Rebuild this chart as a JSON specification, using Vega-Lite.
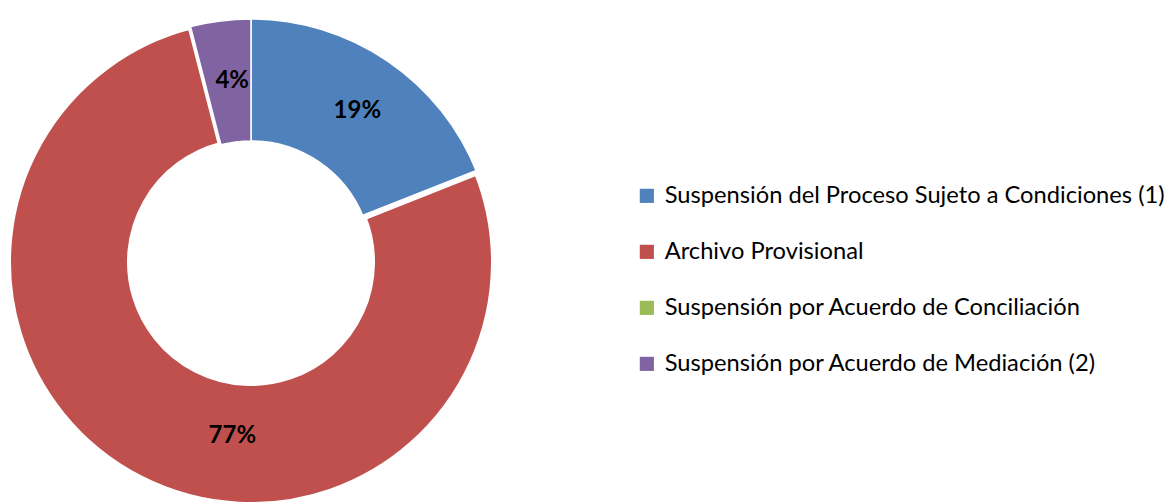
{
  "$schema": "https://vega.github.io/schema/vega-lite/v6.json",
  "autosize": "none",
  "width": 486,
  "height": 486,
  "padding": {"left": 8, "top": 19, "right": 672, "bottom": 0},
  "background": "white",
  "config": {"view": {"stroke": null}},
  "data": {
    "values": [
      {"idx": 1, "cat": "Suspensión del Proceso Sujeto a Condiciones (1)", "value": 0.19},
      {"idx": 2, "cat": "Archivo Provisional", "value": 0.77},
      {"idx": 3, "cat": "Suspensión por Acuerdo de Conciliación", "value": 0.0},
      {"idx": 4, "cat": "Suspensión por Acuerdo de Mediación (2)", "value": 0.04}
    ]
  },
  "encoding": {
    "theta": {"field": "value", "type": "quantitative", "stack": true},
    "order": {"field": "idx", "type": "quantitative", "sort": "ascending"}
  },
  "layer": [
    {
      "mark": {"type": "arc", "outerRadius": 243, "innerRadius": 121, "stroke": "white"},
      "encoding": {
        "color": {
          "field": "cat",
          "type": "nominal",
          "sort": null,
          "scale": {
            "domain": ["Suspensión del Proceso Sujeto a Condiciones (1)", "Archivo Provisional", "Suspensión por Acuerdo de Conciliación", "Suspensión por Acuerdo de Mediación (2)"],
            "range": ["#4F81BD", "#C0504D", "#9BBB59", "#8064A2"]
          },
          "legend": {
            "title": null,
            "orient": "none",
            "legendX": 627,
            "legendY": 165,
            "padding": 0,
            "symbolType": "square",
            "symbolSize": 200,
            "symbolStrokeWidth": 0,
            "labelFont": "Lato",
            "labelFontSize": 23.7,
            "labelColor": "#000000",
            "labelLimit": 600,
            "labelOffset": 6,
            "rowPadding": 31
          }
        },
        "strokeWidth": {
          "condition": {"test": "datum.cat === 'Archivo Provisional'", "value": 6},
          "value": 1.5
        }
      }
    },
    {
      "mark": {"type": "text", "radius": 182, "dx": 4, "font": "Lato", "fontWeight": "bold", "fontSize": 24, "color": "#000000"},
      "encoding": {
        "text": {
          "condition": {"test": "datum.value > 0 && datum.cat !== 'Archivo Provisional'", "field": "value", "type": "quantitative", "format": ".0%"},
          "value": ""
        }
      }
    },
    {
      "mark": {"type": "text", "radius": 182, "dx": 64, "dy": 12, "font": "Lato", "fontWeight": "bold", "fontSize": 24, "color": "#000000"},
      "encoding": {
        "text": {
          "condition": {"test": "datum.cat === 'Archivo Provisional'", "field": "value", "type": "quantitative", "format": ".0%"},
          "value": ""
        }
      }
    }
  ]
}
